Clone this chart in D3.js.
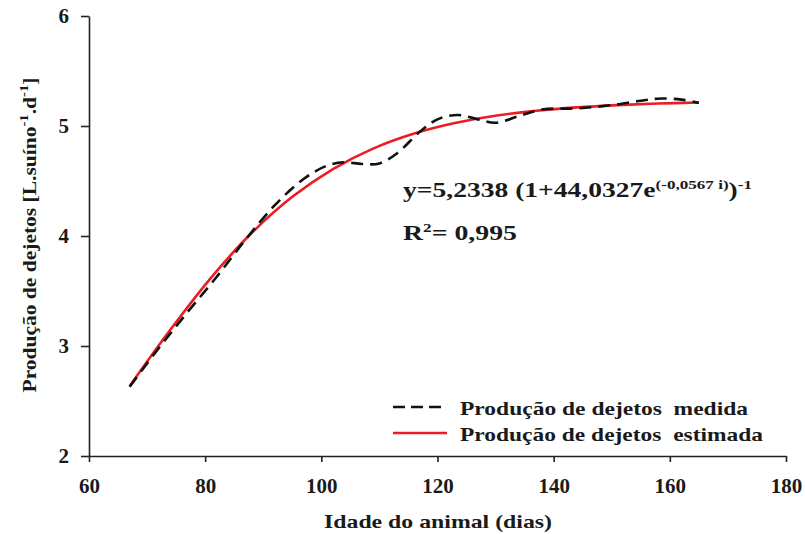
<!DOCTYPE html>
<html>
<head>
<meta charset="utf-8">
<script src="https://cdn.jsdelivr.net/npm/d3@7"></script>
<style>
  html, body { margin: 0; padding: 0; background: #fff; }
  svg { display: block; }
  text { font-family: "Liberation Serif", "Tinos", "Nimbus Roman", "Times New Roman", serif; font-weight: bold; fill: #1a1a1a; }
</style>
</head>
<body>
<svg id="chart" width="805" height="534"></svg>
<script>
// ---- data ----
const xTicks = [60, 80, 100, 120, 140, 160, 180];
const yTicks = [2, 3, 4, 5, 6];

const measuredDays   = [67, 72, 77, 82, 87, 92, 97, 101, 104, 107, 110, 113, 117, 120, 123.5, 127, 130, 134, 138, 144, 150, 155, 158.5, 162, 165];
const measuredValues = [2.63, 2.98, 3.31, 3.63, 3.97, 4.28, 4.52, 4.64, 4.67, 4.655, 4.66, 4.75, 4.95, 5.06, 5.10, 5.06, 5.03, 5.09, 5.15, 5.16, 5.19, 5.23, 5.25, 5.24, 5.21];

const estimatedDays   = [67, 74, 81, 88, 95, 102, 109, 116, 123, 130, 137, 144, 151, 158, 165];
const estimatedValues = [2.635, 3.147, 3.620, 4.027, 4.356, 4.609, 4.797, 4.932, 5.027, 5.093, 5.138, 5.169, 5.190, 5.204, 5.214];

const legendLabels = ["Produção de dejetos  medida", "Produção de dejetos  estimada"];
const xTitle = "Idade do animal (dias)";

// ---- drawing ----
const svg = d3.select("#chart");
const x = d3.scaleLinear().domain([60, 180]).range([89, 786]);
const y = d3.scaleLinear().domain([2, 6]).range([456, 16]);

const axisColor = "#222";
const serif = "'Liberation Serif', 'Tinos', 'Nimbus Roman', 'Times New Roman', serif";

// X axis
const gx = svg.append("g")
  .attr("transform", `translate(0,${y(2)})`)
  .call(d3.axisBottom(x).tickValues(xTicks).tickFormat(d3.format("d")).tickSize(6).tickSizeOuter(0).tickPadding(16));
gx.select(".domain").attr("stroke", axisColor).attr("stroke-width", 1.6);
gx.selectAll(".tick line").attr("stroke", axisColor).attr("stroke-width", 1.6);
gx.selectAll(".tick text")
  .attr("font-family", serif)
  .attr("font-weight", "bold")
  .attr("font-size", 21)
  .attr("fill", "#1a1a1a");

// Y axis
const gy = svg.append("g")
  .attr("transform", `translate(${x(60)},0)`)
  .call(d3.axisLeft(y).tickValues(yTicks).tickFormat(d3.format("d")).tickSize(8).tickSizeOuter(0).tickPadding(12));
gy.select(".domain").attr("stroke", axisColor).attr("stroke-width", 1.6);
gy.selectAll(".tick line").attr("stroke", axisColor).attr("stroke-width", 1.6);
gy.selectAll(".tick text")
  .attr("font-family", serif)
  .attr("font-weight", "bold")
  .attr("font-size", 21)
  .attr("fill", "#1a1a1a");

// Lines
const measured = measuredDays.map((d, i) => [d, measuredValues[i]]);
const estimated = estimatedDays.map((d, i) => [d, estimatedValues[i]]);
const line = d3.line().x(d => x(d[0])).y(d => y(d[1])).curve(d3.curveCatmullRom.alpha(0.5));

svg.append("path")
  .datum(estimated)
  .attr("d", line)
  .attr("fill", "none")
  .attr("stroke", "#ec1c24")
  .attr("stroke-width", 2.6);

svg.append("path")
  .datum(measured)
  .attr("d", line)
  .attr("fill", "none")
  .attr("stroke", "#111")
  .attr("stroke-width", 2.6)
  .attr("stroke-dasharray", "12,7");

// Equation
const eq = svg.append("text")
  .attr("x", 403).attr("y", 197)
  .attr("font-size", 21)
  .attr("textLength", 349)
  .attr("lengthAdjust", "spacingAndGlyphs");
eq.append("tspan").text("y=5,2338 (1+44,0327e");
eq.append("tspan").attr("font-size", 13).attr("dy", -8).text("(-0,0567 i)");
eq.append("tspan").attr("dy", 8).text(")");
eq.append("tspan").attr("font-size", 13).attr("dy", -8).text("-1");

const r2 = svg.append("text")
  .attr("x", 403).attr("y", 240)
  .attr("font-size", 21)
  .attr("textLength", 114)
  .attr("lengthAdjust", "spacingAndGlyphs");
r2.append("tspan").text("R");
r2.append("tspan").attr("font-size", 13).attr("dy", -8).text("2");
r2.append("tspan").attr("dy", 8).text("= 0,995");

// Legend
const legendY = [407, 433];
const legendTextLen = [288, 303];
svg.append("line")
  .attr("x1", 393).attr("x2", 447).attr("y1", legendY[0]).attr("y2", legendY[0])
  .attr("stroke", "#111").attr("stroke-width", 2.6).attr("stroke-dasharray", "12,6");
svg.append("line")
  .attr("x1", 393).attr("x2", 447).attr("y1", legendY[1]).attr("y2", legendY[1])
  .attr("stroke", "#ec1c24").attr("stroke-width", 2.6);
legendLabels.forEach((t, i) => {
  svg.append("text")
    .attr("x", 460).attr("y", legendY[i] + 8)
    .attr("font-size", 19)
    .attr("textLength", legendTextLen[i])
    .attr("lengthAdjust", "spacingAndGlyphs")
    .style("white-space", "pre")
    .text(t);
});

// Axis titles
svg.append("text")
  .attr("x", 438).attr("y", 528)
  .attr("text-anchor", "middle")
  .attr("font-size", 19)
  .attr("textLength", 228)
  .attr("lengthAdjust", "spacingAndGlyphs")
  .text(xTitle);

const yt = svg.append("text")
  .attr("transform", "translate(36,235) rotate(-90)")
  .attr("text-anchor", "middle")
  .attr("font-size", 19)
  .attr("textLength", 315)
  .attr("lengthAdjust", "spacingAndGlyphs");
yt.append("tspan").text("Produção de dejetos [L.suíno");
yt.append("tspan").attr("font-size", 13).attr("dy", -8).text("-1");
yt.append("tspan").attr("dy", 8).text(".d");
yt.append("tspan").attr("font-size", 13).attr("dy", -8).text("-1");
yt.append("tspan").attr("dy", 8).text("]");
</script>
</body>
</html>
